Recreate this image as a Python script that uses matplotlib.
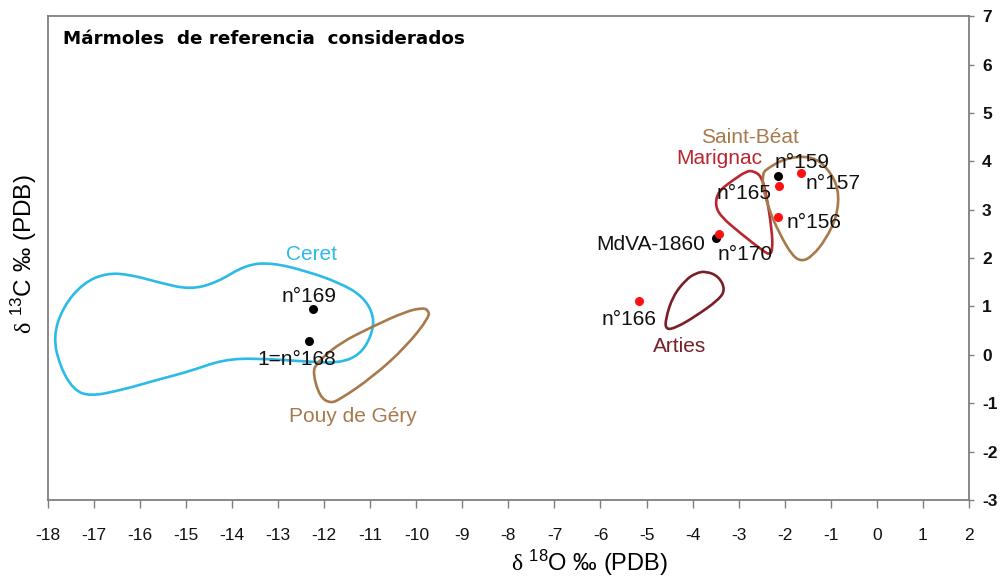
import matplotlib
matplotlib.use("Agg")
import matplotlib.pyplot as plt
from matplotlib.path import Path
from matplotlib.patches import PathPatch

plt.rcParams['font.family'] = ['Liberation Sans', 'DejaVu Sans']
plt.rcParams['mathtext.fontset'] = 'custom'
plt.rcParams['mathtext.rm'] = 'Liberation Sans'
plt.rcParams['mathtext.it'] = 'Liberation Sans:italic'
plt.rcParams['mathtext.sf'] = 'Liberation Serif'
plt.rcParams['axes.unicode_minus'] = False

# outlines of the reference marble fields (d18O, d13C)
ceret_x = [-17.89, -17.67, -17.23, -16.73, -16.22, -15.57, -14.92, -14.34, -13.69, -13.11,
           -12.39, -11.67, -11.16, -10.91, -10.98, -11.23, -11.67, -12.39, -13.47, -14.20,
           -14.92, -15.64, -16.37, -17.09, -17.45, -17.74]
ceret_y = [0.38, 1.00, 1.49, 1.69, 1.66, 1.49, 1.35, 1.49, 1.87, 1.90,
           1.73, 1.49, 1.21, 0.79, 0.38, 0.00, -0.17, -0.14, -0.07, -0.10,
           -0.34, -0.52, -0.72, -0.86, -0.72, -0.24]

pouy_x = [-9.75, -9.71, -10.22, -10.94, -11.67, -11.88, -12.10, -12.25, -12.17, -11.67,
          -10.94, -10.22, -9.86]
pouy_y = [0.93, 0.79, 0.17, -0.45, -0.93, -1.00, -0.86, -0.38, -0.17, 0.24,
          0.59, 0.90, 0.97]

marignac_x = [-2.68, -2.50, -2.39, -2.28, -2.26, -2.32, -2.46, -2.97, -3.40, -3.51,
              -3.44, -3.11, -2.82]
marignac_y = [3.80, 3.69, 3.28, 2.59, 2.18, 2.07, 2.14, 2.52, 2.87, 3.11,
              3.38, 3.62, 3.80]

sbeat_x = [-2.41, -1.98, -1.40, -1.04, -0.82, -0.86, -1.11, -1.40, -1.62, -1.83,
           -2.12, -2.34, -2.48, -2.47]
sbeat_y = [3.83, 4.07, 4.11, 3.83, 3.42, 2.87, 2.38, 2.04, 1.93, 2.04,
           2.52, 3.00, 3.49, 3.75]

arties_x = [-3.71, -3.43, -3.29, -3.43, -3.93, -4.36, -4.58, -4.59, -4.43, -4.15, -3.93]
arties_y = [1.73, 1.62, 1.35, 1.14, 0.80, 0.56, 0.52, 0.73, 1.21, 1.55, 1.69]

# samples
black_names = ['n°169', '1=n°168', 'MdVA-1860', 'n°159']
black_x = [-12.24, -12.34, -3.50, -2.14]
black_y = [0.95, 0.28, 2.42, 3.69]

red_names = ['n°166', 'n°170', 'n°165', 'n°157', 'n°156']
red_x = [-5.17, -3.42, -2.12, -1.65, -2.14]
red_y = [1.12, 2.49, 3.50, 3.76, 2.85]

# sample label positions
lab_text = ['n°169', '1=n°168', 'MdVA-1860', 'n°159', 'n°166', 'n°170', 'n°165', 'n°157', 'n°156']
lab_x = [-12.32, -12.60, -4.91, -1.62, -5.37, -2.85, -2.88, -0.95, -1.36]
lab_y = [1.21, -0.10, 2.28, 3.98, 0.73, 2.07, 3.34, 3.54, 2.73]

# field names
field_names = ['Ceret', 'Pouy de Géry', 'Saint-Béat', 'Marignac', 'Arties']
field_x = [-12.28, -11.38, -2.76, -3.43, -4.29]
field_y = [2.07, -1.28, 4.49, 4.05, 0.17]

c_ceret = '#2bbbe6'
c_brown = '#a8794a'
c_marig = '#b9262f'
c_arties = '#7a1f27'
field_col = [c_ceret, c_brown, c_brown, c_marig, c_arties]

fig = plt.figure(figsize=(10.03, 5.78), dpi=100)
ax = fig.add_axes([0.0479, 0.135, 0.918, 0.837])

def outline(xs, ys, col):
    # closed smooth outline: read points act as quadratic bezier controls
    pts = list(zip(xs, ys))
    n = len(pts)
    mids = [((pts[i][0] + pts[(i + 1) % n][0]) / 2, (pts[i][1] + pts[(i + 1) % n][1]) / 2)
            for i in range(n)]
    verts = [mids[-1]]
    codes = [Path.MOVETO]
    for i in range(n):
        verts += [pts[i], mids[i]]
        codes += [Path.CURVE3, Path.CURVE3]
    ax.add_patch(PathPatch(Path(verts, codes), facecolor='none', edgecolor=col,
                           lw=1.9, zorder=2))

outline(ceret_x, ceret_y, c_ceret)
outline(pouy_x, pouy_y, c_brown)
outline(marignac_x, marignac_y, c_marig)
outline(sbeat_x, sbeat_y, c_brown)
outline(arties_x, arties_y, c_arties)

ax.scatter(black_x, black_y, s=30, color='black', zorder=4)
ax.scatter(red_x, red_y, s=30, color='#ff1010', zorder=4)

for t, x, y in zip(lab_text, lab_x, lab_y):
    ax.text(x, y, t, fontsize=15, ha='center', va='center', color='#111111', zorder=5)
for t, x, y, c in zip(field_names, field_x, field_y, field_col):
    ax.text(x, y, t, fontsize=15, ha='center', va='center', color=c, zorder=5)

ax.text(0.016, 0.952, 'Mármoles  de referencia  considerados', transform=ax.transAxes,
        fontsize=13.2, fontweight='bold', family='DejaVu Sans', ha='left', va='center')

ax.set_xlim(-18, 2)
ax.set_ylim(-3, 7)
ax.set_xticks(range(-18, 3))
ax.set_yticks(range(-3, 8))
ax.yaxis.tick_right()
for s in ax.spines.values():
    s.set_color('#7f7f7f')
    s.set_linewidth(1.3)
ax.tick_params(axis='both', colors='#7f7f7f', width=1.0, labelcolor='#111111',
               labelsize=12.5)
ax.tick_params(axis='x', length=6, pad=14)
ax.tick_params(axis='y', length=3.5, pad=6)
for lab in ax.get_yticklabels():
    lab.set_fontweight('bold')

ax.set_xlabel(r'$\mathsf{\delta}$ $^{18}$O ‰ (PDB)', fontsize=17)
ax.xaxis.set_label_coords(0.588, -0.098)
ax.set_ylabel(r'$\mathsf{\delta}$ $^{13}$C ‰ (PDB)', fontsize=17.5)
ax.yaxis.set_label_position('left')
ax.yaxis.set_label_coords(-0.01, 0.507)

fig.savefig('out.png', dpi=100)
